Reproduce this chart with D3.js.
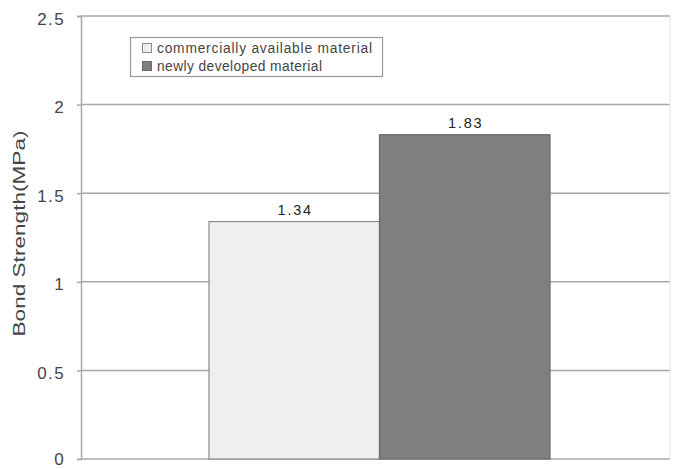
<!DOCTYPE html>
<html>
<head>
<meta charset="utf-8">
<script src="https://cdn.jsdelivr.net/npm/d3@7"></script>
<style>
  html, body { margin: 0; padding: 0; background: #fff; }
  svg { display: block; font-family: "Liberation Sans", Arial, sans-serif; }
</style>
</head>
<body>
<svg id="chart" width="676" height="469"></svg>
<script>
// Bond strength comparison of two materials
const categories = ["commercially available material", "newly developed material"];
const values = [1.34, 1.83];
const fills = ["#efefef", "#7f7f7f"];
const strokes = ["#8a8a8a", "#6a6a6a"];
const yTicks = [0, 0.5, 1, 1.5, 2, 2.5];
const yTickLabels = ["0", "0.5", "1", "1.5", "2", "2.5"];
const yTitle = "Bond Strength(MPa)";

const svg = d3.select("#chart");
const margin = { left: 81, right: 6, top: 16, bottom: 10 };
const W = 676, H = 469;
const textColor = "#454545";

const y = d3.scaleLinear().domain([0, 2.5]).range([H - margin.bottom, margin.top]);
const x = d3.scaleBand().domain(categories).range([209, 550]).paddingInner(0).paddingOuter(0);

// horizontal gridlines
svg.append("g").selectAll("line").data(yTicks).join("line")
  .attr("x1", margin.left).attr("x2", W - margin.right)
  .attr("y1", d => y(d)).attr("y2", d => y(d))
  .attr("stroke", "#a8a8a8").attr("stroke-width", 1.5);

// right frame edge
svg.append("line")
  .attr("x1", W - margin.right).attr("x2", W - margin.right)
  .attr("y1", y(2.5)).attr("y2", y(0))
  .attr("stroke", "#e4e4e4").attr("stroke-width", 1);

// y axis
const yAxis = d3.axisLeft(y).tickValues(yTicks)
  .tickFormat((d, i) => yTickLabels[i]).tickSize(4).tickPadding(12);
const gAxis = svg.append("g").attr("transform", `translate(${margin.left},0)`).call(yAxis);
gAxis.attr("font-family", null);
gAxis.select(".domain").attr("stroke", "#a8a8a8").attr("stroke-width", 1.5);
gAxis.selectAll(".tick line").attr("stroke", "#a8a8a8").attr("stroke-width", 1.5);
gAxis.selectAll(".tick text")
  .attr("fill", textColor).attr("font-size", 17)
  .attr("letter-spacing", 1.4)
  .attr("dy", d => d === 0 ? "0.3em" : "0.48em");

// y title
svg.append("text")
  .attr("transform", `translate(25,${(y(0) + y(2.5)) / 2 - 4}) rotate(-90)`)
  .attr("text-anchor", "middle")
  .attr("fill", textColor).attr("font-size", 16.5)
  .attr("textLength", 206).attr("lengthAdjust", "spacingAndGlyphs")
  .text(yTitle);

// bars
svg.append("g").selectAll("rect").data(values).join("rect")
  .attr("x", (d, i) => x(categories[i]))
  .attr("width", x.bandwidth())
  .attr("y", d => y(d))
  .attr("height", d => y(0) - y(d))
  .attr("fill", (d, i) => fills[i])
  .attr("stroke", (d, i) => strokes[i])
  .attr("stroke-width", 1.2);

// value labels
svg.append("g").selectAll("text").data(values).join("text")
  .attr("x", (d, i) => x(categories[i]) + x.bandwidth() / 2 + 1)
  .attr("y", d => y(d) - 7)
  .attr("text-anchor", "middle")
  .attr("fill", "#222").attr("font-size", 14.5)
  .attr("letter-spacing", 1.8)
  .text(d => d.toFixed(2));

// legend
const lg = svg.append("g");
lg.append("rect").attr("x", 130.5).attr("y", 37.5).attr("width", 252).attr("height", 39)
  .attr("fill", "#fff").attr("stroke", "#9a9a9a").attr("stroke-width", 1.2);
categories.forEach((c, i) => {
  const yy = 48 + i * 18;
  lg.append("rect").attr("x", 142.5).attr("y", yy - 4.5).attr("width", 9).attr("height", 9)
    .attr("fill", fills[i]).attr("stroke", strokes[i]).attr("stroke-width", 1);
  lg.append("text").attr("x", 157).attr("y", yy + 5)
    .attr("fill", textColor).attr("font-size", 13.8)
    .attr("textLength", i === 0 ? 215 : 165).attr("lengthAdjust", "spacing")
    .text(c);
});
</script>
</body>
</html>
